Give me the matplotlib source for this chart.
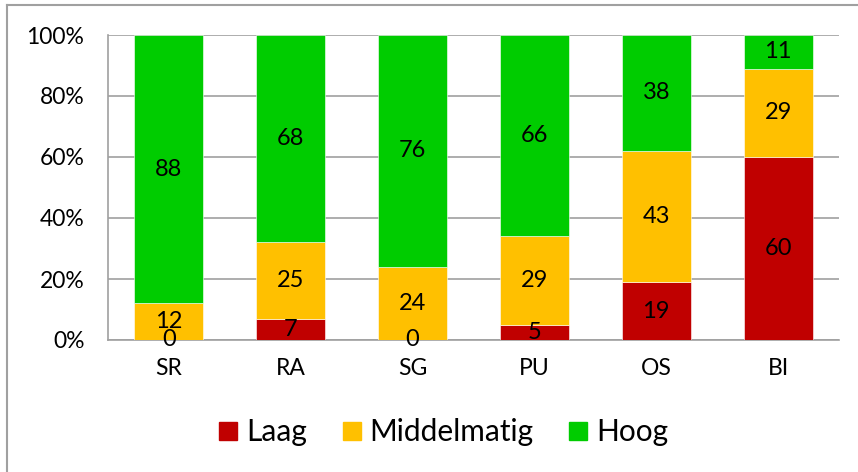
import matplotlib
matplotlib.use("Agg")
import matplotlib.pyplot as plt
from matplotlib.lines import Line2D
import numpy as np

categories = ["SR", "RA", "SG", "PU", "OS", "BI"]
laag = [0, 7, 0, 5, 19, 60]
middelmatig = [12, 25, 24, 29, 43, 29]
hoog = [88, 68, 76, 66, 38, 11]
series_names = ["Laag", "Middelmatig", "Hoog"]
colors = ["#C00000", "#FFC000", "#00CC00"]
yticks = [0, 20, 40, 60, 80, 100]
ytick_labels = ["0%", "20%", "40%", "60%", "80%", "100%"]

plt.rcParams['font.family'] = ['Lato', 'DejaVu Sans']

fig = plt.figure(figsize=(8.58, 4.72), dpi=100)
ax = fig.add_axes([108/858, 1-340/472, (839-108)/858, (340-35)/472])

x = np.arange(len(categories))
width = 0.565
bottom = np.zeros(len(categories))
for name, vals, c in zip(series_names, [laag, middelmatig, hoog], colors):
    vals = np.array(vals, dtype=float)
    ax.bar(x, vals, width, bottom=bottom, color=c, label=name,
           edgecolor="white", linewidth=0.4, zorder=3)
    for xi, b, v in zip(x, bottom, vals):
        ax.text(xi, b + v/2, f"{int(v)}", ha="center", va="center",
                fontsize=17, color="black", zorder=4)
    bottom += vals

ax.set_xlim(-0.5, len(categories) - 0.5)
ax.set_ylim(0, 100)
ax.set_yticks(yticks)
ax.set_yticklabels(ytick_labels, fontsize=16.5)
ax.set_xticks(x)
ax.set_xticklabels(categories, fontsize=16.5)
ax.tick_params(axis="both", length=0)
ax.tick_params(axis="y", pad=17)
ax.tick_params(axis="x", pad=13)
ax.grid(axis="y", color="#a0a0a0", linewidth=1.2, zorder=0)
for s in ["top", "right"]:
    ax.spines[s].set_visible(False)
ax.spines["left"].set_color("#a0a0a0")
ax.spines["left"].set_linewidth(1.2)
ax.spines["bottom"].set_color("#a0a0a0")
ax.spines["bottom"].set_linewidth(1.2)

handles = [Line2D([0], [0], marker="s", linestyle="none", markersize=13,
                  markerfacecolor=c, markeredgecolor=c) for c in colors]
fig.legend(handles, series_names, loc="center", bbox_to_anchor=(0.512, 1-432/472),
           ncol=3, frameon=False, fontsize=21.5, handletextpad=0.0,
           columnspacing=0.9, handlelength=1.2)

fig.add_artist(plt.Line2D([7/858, 7/858], [0, 1-5/472], color="#a0a0a0",
                          linewidth=1.5, transform=fig.transFigure))
fig.add_artist(plt.Line2D([7/858, 1], [1-5/472, 1-5/472], color="#a0a0a0",
                          linewidth=1.5, transform=fig.transFigure))

fig.savefig("out.png", dpi=100)
